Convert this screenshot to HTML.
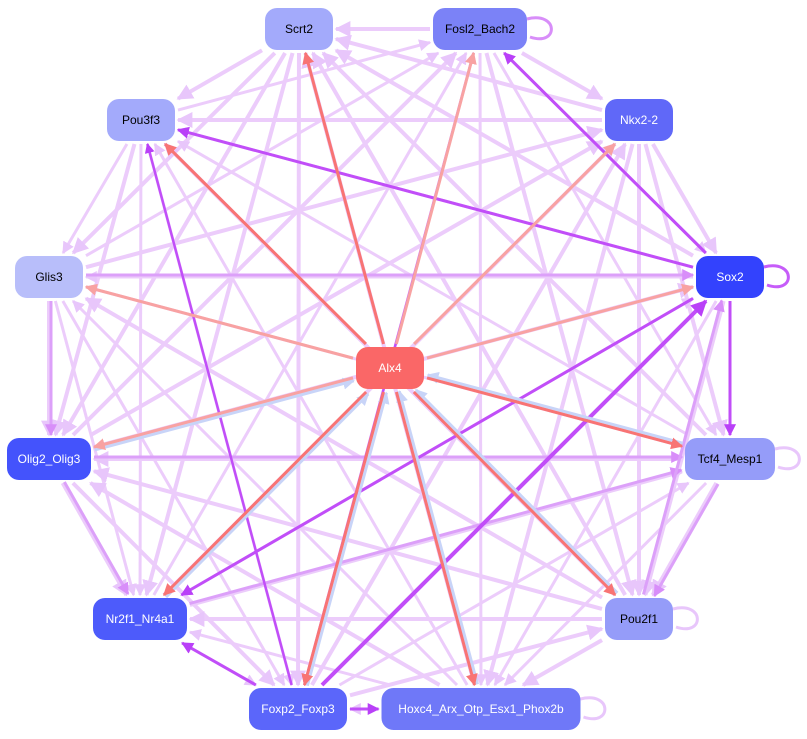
<!DOCTYPE html>
<html><head><meta charset="utf-8"><style>
html,body{margin:0;padding:0;background:#fff;width:807px;height:739px;overflow:hidden}
svg{display:block}
text{font-family:"Liberation Sans",sans-serif;font-size:12px;text-anchor:middle;dominant-baseline:central}
</style></head><body>
<svg id="s" width="807" height="739" viewBox="0 0 807 739" xmlns="http://www.w3.org/2000/svg">
<defs>
<marker id="ml" viewBox="0 0 10 10" refX="9" refY="5" markerWidth="4" markerHeight="4" orient="auto"><path d="M0,0L10,5L0,10z" fill="#e8c6fb"/></marker>
<marker id="mp" viewBox="0 0 10 10" refX="9" refY="5" markerWidth="4" markerHeight="4" orient="auto"><path d="M0,0L10,5L0,10z" fill="#b940f8"/></marker>
<marker id="mm" viewBox="0 0 10 10" refX="9" refY="5" markerWidth="4" markerHeight="4" orient="auto"><path d="M0,0L10,5L0,10z" fill="#d88ef9"/></marker>
<marker id="mr" viewBox="0 0 10 10" refX="9" refY="5" markerWidth="4" markerHeight="4" orient="auto"><path d="M0,0L10,5L0,10z" fill="#f87474"/></marker>
<marker id="ms" viewBox="0 0 10 10" refX="9" refY="5" markerWidth="4" markerHeight="4" orient="auto"><path d="M0,0L10,5L0,10z" fill="#f8a2a2"/></marker>
<marker id="mb" viewBox="0 0 10 10" refX="9" refY="5" markerWidth="4" markerHeight="4" orient="auto"><path d="M0,0L10,5L0,10z" fill="#c8d4f8"/></marker>
</defs>
<g id="edges"></g>
<g id="nodes"></g>
</svg>
<script>
var N={
Scrt2:[299,29,68,"#a3aafb","#000"],
Fosl2_Bach2:[480,29,94,"#7b82f7","#000"],
Pou3f3:[141,120,68,"#a3aafb","#000"],
"Nkx2-2":[639,120,68,"#6068f8","#fff"],
Glis3:[49,277,68,"#b8befa","#000"],
Sox2:[730,277,68,"#3342fd","#fff"],
Alx4:[390,368,68,"#fa6767","#fff"],
Olig2_Olig3:[49,459,84,"#4453fc","#fff"],
Tcf4_Mesp1:[730,459,90,"#959cf9","#000"],
Nr2f1_Nr4a1:[140,619,94,"#4d5bfb","#fff"],
Pou2f1:[639,619,68,"#959cf9","#000"],
Foxp2_Foxp3:[298,709,98,"#5b66fa","#fff"],
"Hoxc4_Arx_Otp_Esx1_Phox2b":[481,709,199,"#6f78f8","#fff"]
};
var E=document.getElementById("edges"),ns="http://www.w3.org/2000/svg";
function clip(a,b){var w=N[b][2]/2+3,h=24,dx=N[a][0]-N[b][0],dy=N[a][1]-N[b][1];var t=Math.min(dx?w/Math.abs(dx):1e9,dy?h/Math.abs(dy):1e9);return [N[b][0]+dx*t,N[b][1]+dy*t];}
function ln(a,b,c,m,w,off){var s=clip(b,a),e=clip(a,b);off=off||0;var dx=e[0]-s[0],dy=e[1]-s[1],L=Math.hypot(dx,dy),ox=-dy/L*off,oy=dx/L*off;var l=document.createElementNS(ns,"line");l.setAttribute("x1",s[0]+ox);l.setAttribute("y1",s[1]+oy);l.setAttribute("x2",e[0]+ox);l.setAttribute("y2",e[1]+oy);l.setAttribute("stroke",c);l.setAttribute("stroke-width",w);l.setAttribute("marker-end","url(#"+m+")");E.appendChild(l);}
var outer=Object.keys(N).filter(function(k){return k!="Alx4"});
for(var i=0;i<outer.length;i++)for(var j=i+1;j<outer.length;j++){var f=(i+j)%2==0;ln(f?outer[i]:outer[j],f?outer[j]:outer[i],"#ecccfb","ml",(i*j)%3==0?4:3,0);}
var mid=[["Glis3","Sox2"],["Tcf4_Mesp1","Pou2f1"],["Olig2_Olig3","Tcf4_Mesp1"],["Nr2f1_Nr4a1","Tcf4_Mesp1"],["Pou2f1","Sox2"],["Glis3","Olig2_Olig3"],["Olig2_Olig3","Nr2f1_Nr4a1"]];
mid.forEach(function(p){ln(p[0],p[1],"#dca0f9","mm",3,-2)});
var pur=[["Sox2","Fosl2_Bach2",3],["Sox2","Pou3f3",3],["Sox2","Tcf4_Mesp1",3],["Sox2","Nr2f1_Nr4a1",3],["Foxp2_Foxp3","Sox2",4],["Foxp2_Foxp3","Pou3f3",2.5],["Foxp2_Foxp3","Nr2f1_Nr4a1",3],["Foxp2_Foxp3","Hoxc4_Arx_Otp_Esx1_Phox2b",3],["Fosl2_Bach2","Foxp2_Foxp3",2.5]];
pur.forEach(function(p){ln(p[0],p[1],"#c14ef8","mp",p[2],0)});
var red=["Scrt2","Pou3f3","Tcf4_Mesp1","Nr2f1_Nr4a1","Pou2f1","Hoxc4_Arx_Otp_Esx1_Phox2b","Foxp2_Foxp3"];
var sal=["Fosl2_Bach2","Nkx2-2","Glis3","Sox2","Olig2_Olig3"];
["Olig2_Olig3","Foxp2_Foxp3","Hoxc4_Arx_Otp_Esx1_Phox2b","Pou2f1","Tcf4_Mesp1","Nr2f1_Nr4a1"].forEach(function(k){ln(k,"Alx4","#c8d4f8","mb",3,3)});
red.forEach(function(k){ln("Alx4",k,"#f87474","mr",3,0)});
sal.forEach(function(k){ln("Alx4",k,"#f8a2a2","ms",3,0)});
var G=document.getElementById("nodes");
for(var k in N){var n=N[k];var r=document.createElementNS(ns,"rect");r.setAttribute("x",n[0]-n[2]/2);r.setAttribute("y",n[1]-21);r.setAttribute("width",n[2]);r.setAttribute("height",42);r.setAttribute("rx",12);r.setAttribute("fill",n[3]);G.appendChild(r);var t=document.createElementNS(ns,"text");t.setAttribute("x",n[0]);t.setAttribute("y",n[1]);t.setAttribute("fill",n[4]);t.textContent=k;G.appendChild(t);}
[["Fosl2_Bach2","#d88ef9"],["Sox2","#c65cf9"],["Tcf4_Mesp1","#e8c6fb"],["Pou2f1","#e8c6fb"],["Hoxc4_Arx_Otp_Esx1_Phox2b","#e8c6fb"]].forEach(function(p){var n=N[p[0]];var x=n[0]+n[2]/2;var pa=document.createElementNS(ns,"path");pa.setAttribute("d","M"+x+","+(n[1]-10)+" C"+(x+32)+","+(n[1]-18)+" "+(x+32)+","+(n[1]+18)+" "+(x+3)+","+(n[1]+8));pa.setAttribute("fill","none");pa.setAttribute("stroke",p[1]);pa.setAttribute("stroke-width",3);E.appendChild(pa);});
</script>
</body></html>
